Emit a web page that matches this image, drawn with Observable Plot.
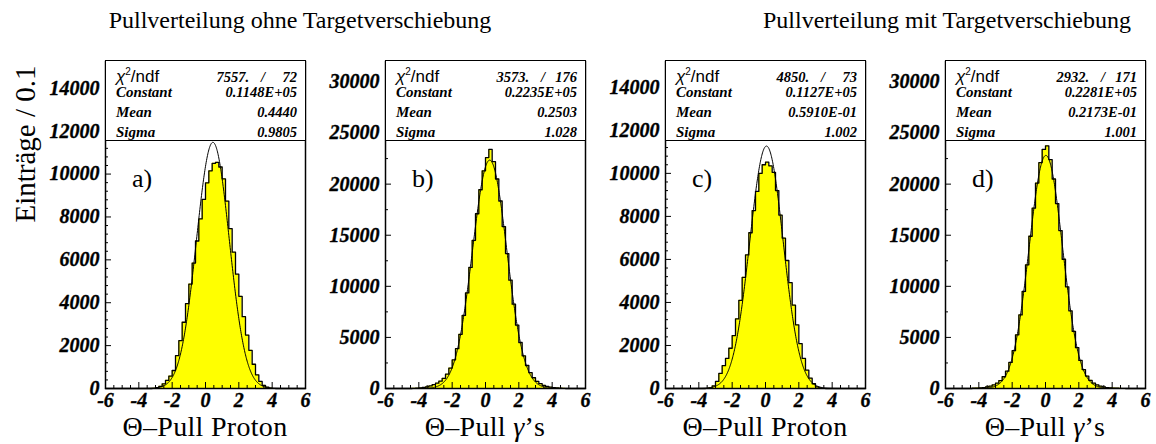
<!DOCTYPE html>
<html>
<head>
<meta charset="utf-8">
<script src="https://cdn.jsdelivr.net/npm/d3@7"></script>
<script src="https://cdn.jsdelivr.net/npm/@observablehq/plot@0.6"></script>
<style>
  html, body { margin: 0; padding: 0; background: #fff; }
  #root { position: relative; width: 1156px; height: 444px; overflow: hidden; font-family: "Liberation Serif", "Times New Roman", serif; color: #000; }
  .abs { position: absolute; white-space: nowrap; line-height: 1; }
  .gtitle { font-size: 24px; text-align: center; width: 460px; }
  .xtitle { font-size: 28px; text-align: center; letter-spacing: 0.3px; }
  .plabel { font-size: 26px; }
  .ytitle { font-size: 29px; transform: translate(-50%, -50%) rotate(-90deg); }
  .stat { position: absolute; box-sizing: border-box; border: 1.5px solid #000; background: #fff; padding: 1px 8px 0 10px; }
  .row { display: flex; justify-content: space-between; align-items: baseline; height: 20px; line-height: 20px; font-family: "Liberation Serif", serif; font-weight: bold; font-style: italic; font-size: 15px; }
  .val { font-size: 14.5px; }
  .chi { font-family: "Liberation Sans", Arial, sans-serif; font-weight: normal; font-style: normal; font-size: 17px; }
  .sl { display: inline-block; width: 16px; text-align: center; margin-left: 6px; }
  .ndf { display: inline-block; width: 26px; text-align: right; }
</style>
</head>
<body>
<div id="root"></div>
<script>
// ---------------- data ----------------
const groupTitles = ["Pullverteilung ohne Targetverschiebung", "Pullverteilung mit Targetverschiebung"];
const yTitle = "Einträge / 0.1";
const panelLetters = ["a)", "b)", "c)", "d)"];
const xTitles = ["Θ–Pull Proton", "Θ–Pull γ’s", "Θ–Pull Proton", "Θ–Pull γ’s"];
const xTickLabels = [-6, -4, -2, 0, 2, 4, 6];
const yTicksProton = [0, 2000, 4000, 6000, 8000, 10000, 12000, 14000];
const yTicksGamma = [0, 5000, 10000, 15000, 20000, 25000, 30000];
const yMaxes = [15250, 32000, 15200, 32000];

// bin centres (displayed bins 0.2 wide)
const binCentres = [-4.3,-4.1,-3.9,-3.7,-3.5,-3.3,-3.1,-2.9,-2.7,-2.5,-2.3,-2.1,-1.9,-1.7,-1.5,-1.3,-1.1,-0.9,-0.7,-0.5,-0.3,-0.1,0.1,0.3,0.5,0.7,0.9,1.1,1.3,1.5,1.7,1.9,2.1,2.3,2.5,2.7,2.9,3.1,3.3,3.5,3.7,3.9,4.1,4.3,4.5,4.7];
const countsA = [0,0,0,0,0,0,10,40,100,220,380,580,840,1530,2230,3090,3960,4870,5850,6880,7910,8820,9590,10150,10500,10550,10330,9780,8740,7460,6360,5330,4300,3350,2490,1780,1130,640,330,150,60,20,5,0,0,0];
const countsB = [20,30,60,100,160,250,370,520,720,1000,1400,2000,2800,3900,5300,7150,9350,11850,14500,17100,19450,21300,22600,23400,22200,20500,18350,15850,13200,10600,8250,6200,4500,3200,2250,1550,1050,700,470,310,200,130,80,50,30,20];
const countsC = [0,0,0,0,5,30,120,330,700,1060,1400,1870,2460,3240,4100,5170,6210,7240,8270,9160,10000,10400,10520,10350,10050,9200,8060,6990,5950,4920,3880,2960,2090,1400,850,480,220,80,25,5,0,0,0,0,0,0];
const countsD = [25,40,60,90,150,230,350,520,780,1150,1700,2550,3700,5250,7200,9500,12100,14900,17650,20100,22100,23400,23750,22400,20500,18100,15450,12650,9950,7600,5600,4000,2750,1850,1220,800,520,350,230,150,90,60,40,25,15,10];

// Gaussian fit parameters (from the stat boxes)
const fitConstant = [11480, 22350, 11270, 22810];
const fitMean = [0.4440, 0.2503, 0.05910, 0.02173];
const fitSigma = [0.9805, 1.028, 1.002, 1.001];

// stat box texts
const statChi2 = ["7557.", "3573.", "4850.", "2932."];
const statNdf = ["72", "176", "73", "171"];
const statConstant = ["0.1148E+05", "0.2235E+05", "0.1127E+05", "0.2281E+05"];
const statMean = ["0.4440", "0.2503", "0.5910E-01", "0.2173E-01"];
const statSigma = ["0.9805", "1.028", "1.002", "1.001"];

// ---------------- layout ----------------
const root = document.getElementById("root");
const frameLefts = [105, 385, 665, 945];
const frameW = 200, frameTop = 61, frameBottom = 388, frameH = frameBottom - frameTop;
const mL = 80, mR = 8, mT = 21, mB = 32;
const svgTop = frameTop - mT;
const tickFont = {fontFamily: "Liberation Serif", fontSize: 20, fontWeight: "bold", fontStyle: "italic", fill: "#000", stroke: "#000", strokeWidth: 0.35};

function addDiv(cls, html, style) {
  const d = document.createElement("div");
  d.className = cls;
  d.innerHTML = html;
  Object.assign(d.style, style);
  root.appendChild(d);
  return d;
}

const allCounts = [countsA, countsB, countsC, countsD];

allCounts.forEach((counts, i) => {
  const yTicks = (i % 2 === 0) ? yTicksProton : yTicksGamma;
  const yMinorStep = (i % 2 === 0) ? 400 : 2500;
  const yMinor = d3.range(0, yMaxes[i] + 1, yMinorStep).filter(v => !yTicks.includes(v));
  const xMinor = d3.range(-6, 6.001, 0.5).filter(v => !xTickLabels.includes(v));

  const pts = [{x: -6, y: 0}];
  binCentres.forEach((c, k) => pts.push({x: c - 0.1, y: counts[k]}));
  pts.push({x: binCentres[binCentres.length - 1] + 0.1, y: 0}, {x: 6, y: 0});

  const fit = d3.range(-6, 6.0001, 0.02).map(x => ({x, y: fitConstant[i] * Math.exp(-0.5 * ((x - fitMean[i]) / fitSigma[i]) ** 2)}));

  const svg = Plot.plot({
    width: mL + frameW + mR,
    height: mT + frameH + mB,
    marginLeft: mL, marginRight: mR, marginTop: mT, marginBottom: mB,
    x: {domain: [-6, 6], axis: null},
    y: {domain: [0, yMaxes[i]], axis: null},
    style: {background: "transparent", overflow: "visible", fontFamily: "Liberation Serif", fontSize: "20px", fontWeight: "bold", fontStyle: "italic"},
    marks: [
      Plot.areaY(pts, {x: "x", y: "y", curve: "step-after", fill: "#ffff00"}),
      Plot.lineY(pts, {x: "x", y: "y", curve: "step-after", stroke: "#000", strokeWidth: 1.3}),
      Plot.lineY(fit, {x: "x", y: "y", stroke: "#000", strokeWidth: 1}),
      Plot.ruleX(xTickLabels, {x: d => d, insetTop: frameH - 6, stroke: "#000"}),
      Plot.ruleX(xMinor, {x: d => d, insetTop: frameH - 3, stroke: "#000"}),
      Plot.ruleY(yTicks, {y: d => d, insetRight: frameW - 6, stroke: "#000"}),
      Plot.ruleY(yMinor, {y: d => d, insetRight: frameW - 3, stroke: "#000"}),
      Plot.frame({stroke: "#000", strokeWidth: 1.5}),
      Plot.text(xTickLabels, {x: d => d, frameAnchor: "bottom", text: d => String(d), lineAnchor: "top", dy: 4, ...tickFont}),
      Plot.text(yTicks, {y: d => d, frameAnchor: "left", text: d => String(d), textAnchor: "end", dx: -6, ...tickFont})
    ]
  });
  svg.style.position = "absolute";
  svg.style.left = (frameLefts[i] - mL) + "px";
  svg.style.top = svgTop + "px";
  root.appendChild(svg);

  // stat box
  const box = addDiv("stat", "", {left: frameLefts[i] + "px", top: (frameTop - 1) + "px", width: (frameW + 1) + "px", height: "81px"});
  box.innerHTML =
    `<div class="row"><span class="chi"><i>χ</i><sup style="font-size:10px">2</sup>/ndf</span><span class="val">${statChi2[i]}<span class="sl">/</span><span class="ndf">${statNdf[i]}</span></span></div>` +
    `<div class="row"><span>Constant</span><span class="val">${statConstant[i]}</span></div>` +
    `<div class="row"><span>Mean</span><span class="val">${statMean[i]}</span></div>` +
    `<div class="row"><span>Sigma</span><span class="val">${statSigma[i]}</span></div>`;

  // panel letter
  addDiv("abs plabel", panelLetters[i], {left: (frameLefts[i] + 27) + "px", top: "166px"});

  // x title
  const xt = xTitles[i].replace("γ", "<i>γ</i>");
  addDiv("abs xtitle", xt, {left: (frameLefts[i] - 40) + "px", width: (frameW + 80) + "px", top: "413px"});
});

// group titles (centred)
addDiv("abs gtitle", groupTitles[0], {left: (300 - 230) + "px", top: "8px"});
addDiv("abs gtitle", groupTitles[1], {left: (947 - 230) + "px", top: "8px"});

// y title
addDiv("abs ytitle", yTitle, {left: "25px", top: "144px"});
</script>
</body>
</html>
